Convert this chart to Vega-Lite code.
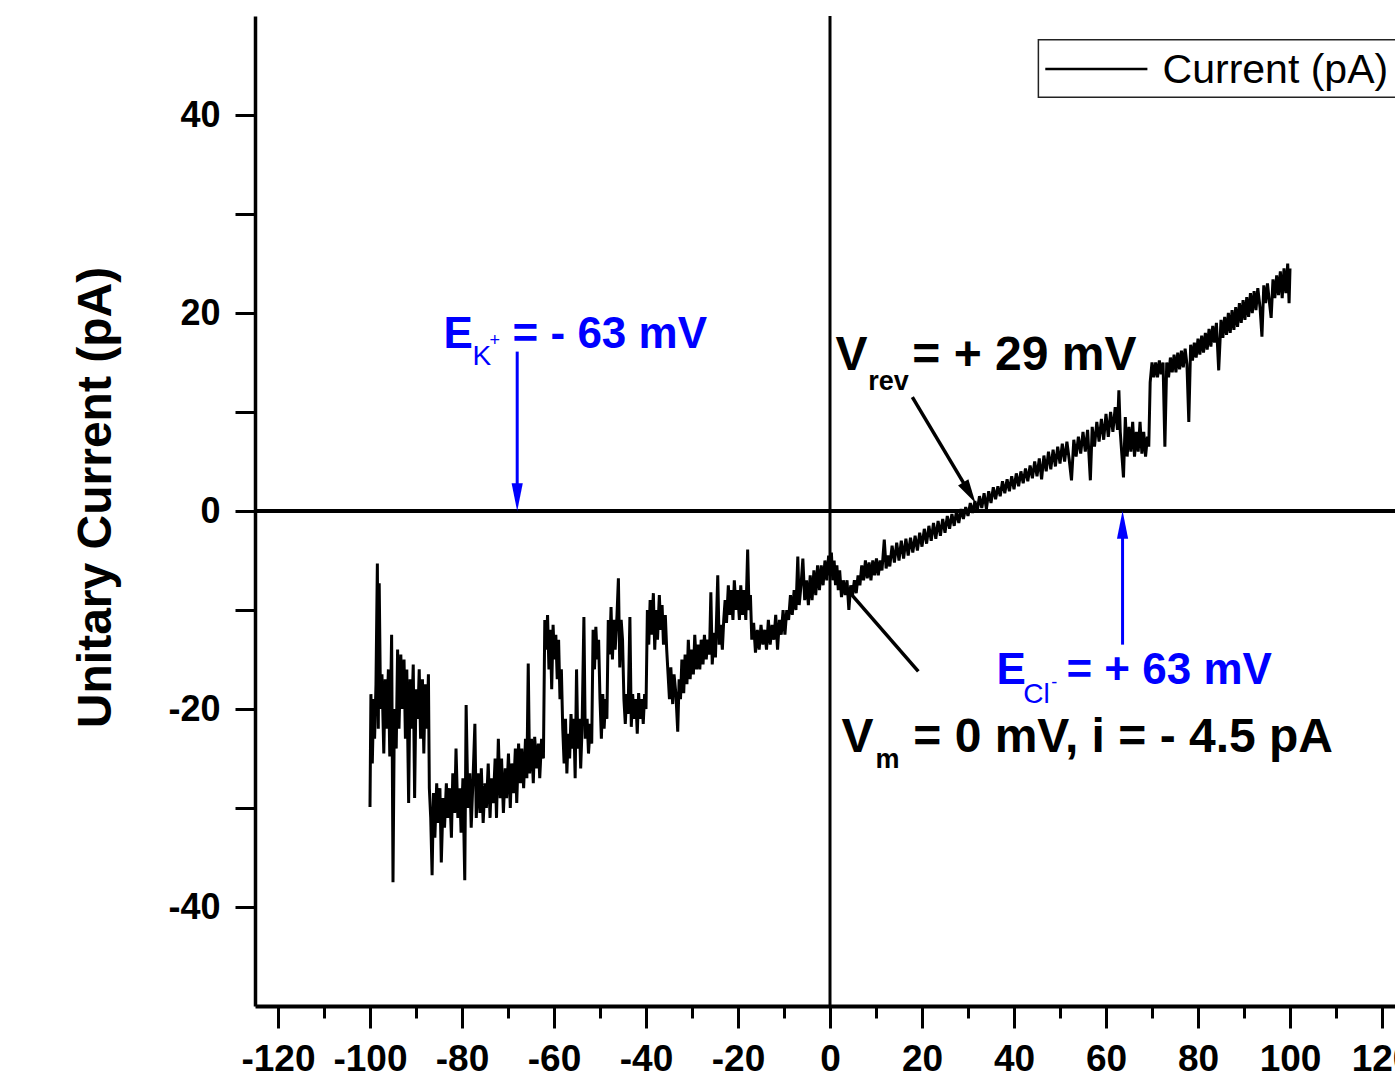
{
 "$schema": "https://vega.github.io/schema/vega-lite/v6.json",
 "width": 1150,
 "height": 990,
 "autosize": {"type": "none"},
 "padding": {"left": 255, "top": 16, "right": 0, "bottom": 75},
 "background": "white",
 "config": {"view": {"stroke": null}, "font": "Liberation Sans"},
 "datasets": {
  "trace": [
{"x":-100,"y":-29.9},{"x":-99.8,"y":-18.5},{"x":-99.5,"y":-25.5},{"x":-99.2,"y":-19},{"x":-99,"y":-23},{"x":-98.7,"y":-17.5},{"x":-98.4,"y":-5.3},{"x":-98.2,"y":-22},{"x":-98,"y":-7.3},{"x":-97.7,"y":-20},{"x":-97.4,"y":-16.5},{"x":-97,"y":-24.5},{"x":-96.7,"y":-17},{"x":-96.4,"y":-22},{"x":-96,"y":-16},{"x":-95.7,"y":-24.8},{"x":-95.3,"y":-12.5},{"x":-95,"y":-37.5},{"x":-94.7,"y":-20},{"x":-94.3,"y":-24},{"x":-94,"y":-14},{"x":-93.7,"y":-22},{"x":-93.3,"y":-14.5},{"x":-93,"y":-20},{"x":-92.6,"y":-15},{"x":-92.3,"y":-23},{"x":-92,"y":-16},{"x":-91.6,"y":-29.5},{"x":-91.3,"y":-17},{"x":-91,"y":-22},{"x":-90.6,"y":-15.5},{"x":-90.3,"y":-29},{"x":-90,"y":-18},{"x":-89.6,"y":-21},{"x":-89.3,"y":-16},{"x":-89,"y":-23},{"x":-88.6,"y":-17},{"x":-88.3,"y":-24.5},{"x":-88,"y":-17.5},{"x":-87.6,"y":-22},{"x":-87.3,"y":-16.5},{"x":-87.1,"y":-28},
{"x":-86.8,"y":-31},{"x":-86.5,"y":-36.8},{"x":-86.2,"y":-28.5},{"x":-85.9,"y":-33},{"x":-85.5,"y":-27.5},{"x":-85.2,"y":-31.5},{"x":-84.8,"y":-28},{"x":-84.5,"y":-35.5},{"x":-84.1,"y":-29},{"x":-83.8,"y":-32},{"x":-83.4,"y":-27.5},{"x":-83.1,"y":-31},{"x":-82.7,"y":-28},{"x":-82.3,"y":-33},{"x":-82,"y":-26.5},{"x":-81.6,"y":-30.5},{"x":-81.3,"y":-24},{"x":-80.9,"y":-31},{"x":-80.5,"y":-28},{"x":-80.2,"y":-32.5},{"x":-79.8,"y":-27},{"x":-79.4,"y":-37.3},{"x":-79.1,"y":-19.6},{"x":-78.7,"y":-30},{"x":-78.3,"y":-26.5},{"x":-78,"y":-32},{"x":-77.6,"y":-27},{"x":-77.2,"y":-21.5},{"x":-76.9,"y":-31},{"x":-76.5,"y":-26.5},{"x":-76.1,"y":-30.5},{"x":-75.8,"y":-26},{"x":-75.4,"y":-31.5},{"x":-75,"y":-27.5},{"x":-74.7,"y":-30},{"x":-74.3,"y":-25.5},{"x":-73.9,"y":-31},{"x":-73.6,"y":-27},{"x":-73.2,"y":-29.5},{"x":-72.8,"y":-25},{"x":-72.5,"y":-31},{"x":-72.1,"y":-23},{"x":-71.7,"y":-29},{"x":-71.4,"y":-25},{"x":-71,"y":-30.5},{"x":-70.6,"y":-26},{"x":-70.3,"y":-29},{"x":-69.9,"y":-24.5},{"x":-69.5,"y":-30},{"x":-69.2,"y":-25.5},{"x":-68.8,"y":-28.5},{"x":-68.4,"y":-24},{"x":-68.1,"y":-29.5},{"x":-67.7,"y":-23.5},{"x":-67.3,"y":-27.5},{"x":-67,"y":-24},{"x":-66.6,"y":-28},{"x":-66.2,"y":-23},{"x":-65.9,"y":-27},{"x":-65.6,"y":-15.4},{"x":-65.3,"y":-26.5},{"x":-64.9,"y":-23},{"x":-64.5,"y":-27.5},{"x":-64.2,"y":-22.8},{"x":-63.8,"y":-26},{"x":-63.4,"y":-23.5},{"x":-63.1,"y":-27},{"x":-62.7,"y":-23},{"x":-62.3,"y":-25},
{"x":-62,"y":-11},{"x":-61.7,"y":-14},{"x":-61.4,"y":-10.5},{"x":-61.1,"y":-16},{"x":-60.8,"y":-12},{"x":-60.5,"y":-18},{"x":-60.2,"y":-11.5},{"x":-59.9,"y":-15},{"x":-59.6,"y":-12.5},{"x":-59.3,"y":-17},{"x":-59,"y":-13},{"x":-58.7,"y":-19},{"x":-58.4,"y":-16},
{"x":-58.1,"y":-22},{"x":-57.8,"y":-25.5},{"x":-57.5,"y":-21},{"x":-57.2,"y":-26.5},{"x":-56.9,"y":-22.5},{"x":-56.6,"y":-25},{"x":-56.3,"y":-20.5},{"x":-56,"y":-24},{"x":-55.7,"y":-21},{"x":-55.4,"y":-27},{"x":-55.1,"y":-16},{"x":-54.8,"y":-24},{"x":-54.5,"y":-21},{"x":-54.2,"y":-26},
{"x":-53.9,"y":-22},{"x":-53.5,"y":-10.7},{"x":-53.2,"y":-23},{"x":-52.8,"y":-21},{"x":-52.5,"y":-24.5},{"x":-52.1,"y":-21.5},{"x":-51.8,"y":-23.5},
{"x":-51.5,"y":-12},{"x":-51.2,"y":-16},{"x":-50.9,"y":-11.7},{"x":-50.6,"y":-15},{"x":-50.3,"y":-13},
{"x":-50,"y":-19},{"x":-49.7,"y":-23},{"x":-49.4,"y":-18.5},{"x":-49.1,"y":-22},{"x":-48.8,"y":-19},{"x":-48.5,"y":-21},
{"x":-48.2,"y":-11},{"x":-47.9,"y":-14.5},{"x":-47.6,"y":-9.7},{"x":-47.3,"y":-15},{"x":-47,"y":-11},{"x":-46.7,"y":-14},{"x":-46.3,"y":-10.5},{"x":-46,"y":-6.8},{"x":-45.7,"y":-15.8},{"x":-45.4,"y":-11},{"x":-45.1,"y":-13},
{"x":-44.8,"y":-19},{"x":-44.5,"y":-21.5},{"x":-44.2,"y":-18.5},{"x":-43.9,"y":-20.5},{"x":-43.5,"y":-10.7},{"x":-43.2,"y":-21.8},{"x":-42.9,"y":-18.5},{"x":-42.6,"y":-21},{"x":-42.2,"y":-19},{"x":-41.9,"y":-22.5},{"x":-41.6,"y":-18.4},{"x":-41.3,"y":-21},{"x":-40.9,"y":-19},{"x":-40.6,"y":-21.5},{"x":-40.3,"y":-18.5},{"x":-40,"y":-20},
{"x":-39.7,"y":-10},{"x":-39.4,"y":-13.5},{"x":-39.1,"y":-9},{"x":-38.8,"y":-12.5},{"x":-38.4,"y":-8.3},{"x":-38.1,"y":-14},{"x":-37.8,"y":-10},{"x":-37.5,"y":-13},{"x":-37.1,"y":-8.5},{"x":-36.8,"y":-12},{"x":-36.5,"y":-9.5},{"x":-36.2,"y":-13.5},{"x":-35.8,"y":-10.5},{"x":-35.5,"y":-14},
{"x":-35.2,"y":-16.5},{"x":-34.9,"y":-19},{"x":-34.6,"y":-15.8},{"x":-34.2,"y":-19.5},{"x":-33.9,"y":-16.5},{"x":-33.5,"y":-18.5},{"x":-33.1,"y":-22.3},{"x":-32.8,"y":-17},{"x":-32.5,"y":-19},
{"x":-32.2,"y":-15},{"x":-31.8,"y":-18.4},{"x":-31.5,"y":-14.5},{"x":-31.1,"y":-17.5},{"x":-30.8,"y":-13},{"x":-30.4,"y":-17},{"x":-30.1,"y":-14},{"x":-29.7,"y":-16.5},{"x":-29.4,"y":-12.5},{"x":-29,"y":-16},{"x":-28.7,"y":-13.5},{"x":-28.3,"y":-16},{"x":-28,"y":-13},{"x":-27.6,"y":-15.5},{"x":-27.3,"y":-12.5},{"x":-26.9,"y":-15},{"x":-26.6,"y":-13},
{"x":-26.2,"y":-14.5},{"x":-25.9,"y":-8.2},{"x":-25.6,"y":-15.5},{"x":-25.2,"y":-12.3},{"x":-24.9,"y":-14.8},{"x":-24.4,"y":-6.5},{"x":-24.1,"y":-13.5},{"x":-23.8,"y":-11.5},{"x":-23.4,"y":-14},{"x":-23.1,"y":-11},
{"x":-22.8,"y":-9},{"x":-22.5,"y":-11.3},{"x":-22.1,"y":-7.5},{"x":-21.8,"y":-10.5},{"x":-21.5,"y":-8},{"x":-21.1,"y":-11},{"x":-20.8,"y":-7},{"x":-20.4,"y":-10},{"x":-20.1,"y":-8},{"x":-19.7,"y":-11},{"x":-19.4,"y":-7.5},{"x":-19,"y":-10.5},{"x":-18.7,"y":-8},{"x":-18.3,"y":-11},{"x":-17.9,"y":-3.9},{"x":-17.6,"y":-10},{"x":-17.3,"y":-8.5},
{"x":-17,"y":-13},{"x":-16.6,"y":-11.3},{"x":-16.2,"y":-14.3},{"x":-15.8,"y":-12},{"x":-15.4,"y":-14},{"x":-15,"y":-11.5},{"x":-14.6,"y":-13.5},{"x":-14.2,"y":-12},{"x":-13.8,"y":-14},{"x":-13.4,"y":-11},{"x":-13,"y":-13.5},{"x":-12.6,"y":-11.5},{"x":-12.2,"y":-13},{"x":-11.8,"y":-10.5},{"x":-11.4,"y":-14},{"x":-11,"y":-11},{"x":-10.6,"y":-12.5},{"x":-10.2,"y":-10},{"x":-9.8,"y":-12.5},{"x":-9.4,"y":-10},
{"x":-9,"y":-11},{"x":-8.6,"y":-8.5},{"x":-8.2,"y":-10.5},{"x":-7.8,"y":-8},{"x":-7.4,"y":-10},{"x":-7,"y":-4.6},{"x":-6.7,"y":-9.5},{"x":-6.3,"y":-7.5},{"x":-5.9,"y":-4.8},{"x":-5.5,"y":-9},{"x":-5.1,"y":-7},{"x":-4.7,"y":-9.5},{"x":-4.3,"y":-6.5},{"x":-3.9,"y":-9},{"x":-3.5,"y":-6},{"x":-3.1,"y":-8.5},{"x":-2.7,"y":-5.5},{"x":-2.3,"y":-8},{"x":-1.9,"y":-5.5},{"x":-1.5,"y":-7.5},{"x":-1.1,"y":-5},{"x":-0.7,"y":-7},{"x":-0.3,"y":-4.5},
{"x":0,"y":-6.5},{"x":0.3,"y":-4.2},{"x":0.6,"y":-7},{"x":0.9,"y":-5},{"x":1.2,"y":-7.5},{"x":1.5,"y":-5.5},{"x":1.8,"y":-8},{"x":2.1,"y":-6},
{"x":2.5,"y":-8.7},{"x":2.9,"y":-7},{"x":3.3,"y":-8.5},{"x":3.7,"y":-7},{"x":4.1,"y":-10},{"x":4.5,"y":-7.5},{"x":4.9,"y":-8.5},{"x":5.3,"y":-7},{"x":5.7,"y":-8.3},{"x":6.1,"y":-6.5},
{"x":6.5,"y":-7.5},{"x":6.9,"y":-5.5},{"x":7.3,"y":-7},{"x":7.7,"y":-5},{"x":8.1,"y":-6.8},{"x":8.5,"y":-5.2},{"x":8.9,"y":-7},{"x":9.3,"y":-5},{"x":9.7,"y":-6.5},{"x":10.1,"y":-4.8},{"x":10.5,"y":-6.5},{"x":10.9,"y":-5},{"x":11.3,"y":-6},{"x":11.8,"y":-2.9},{"x":12.2,"y":-5.8},{"x":12.6,"y":-4.5},
{"x":13,"y":-5.6},{"x":13.5,"y":-3.5},{"x":14,"y":-5.2},{"x":14.5,"y":-3.2},{"x":15,"y":-5},{"x":15.5,"y":-3},{"x":16,"y":-4.8},{"x":16.5,"y":-2.8},{"x":17,"y":-4.5},{"x":17.5,"y":-2.7},{"x":18,"y":-4.2},{"x":18.5,"y":-2.5},{"x":19,"y":-4},{"x":19.5,"y":-2.2},
{"x":20,"y":-3.6},{"x":20.5,"y":-1.8},{"x":21,"y":-3.3},{"x":21.5,"y":-1.5},{"x":22,"y":-3},{"x":22.5,"y":-1.2},{"x":23,"y":-2.8},{"x":23.5,"y":-1},{"x":24,"y":-2.5},{"x":24.5,"y":-0.8},{"x":25,"y":-2.2},{"x":25.5,"y":-0.5},{"x":26,"y":-1.8},{"x":26.5,"y":-0.3},{"x":27,"y":-1.5},{"x":27.5,"y":0},
{"x":28,"y":-1.2},{"x":28.5,"y":0.2},{"x":29,"y":-0.8},{"x":29.5,"y":0.4},{"x":30,"y":-0.5},{"x":30.5,"y":0.8},{"x":31,"y":-0.2},{"x":31.5,"y":1},
{"x":32,"y":0},{"x":32.5,"y":1.5},{"x":33,"y":0.3},{"x":33.5,"y":1.8},{"x":34,"y":0.2},{"x":34.5,"y":2},{"x":35,"y":0.8},{"x":35.5,"y":2.4},{"x":36,"y":1.2},{"x":36.5,"y":2.5},{"x":37,"y":1.5},{"x":37.5,"y":3},{"x":38,"y":1.8},{"x":38.5,"y":3.2},{"x":39,"y":2},{"x":39.5,"y":3.5},{"x":40,"y":2.2},{"x":40.5,"y":3.8},{"x":41,"y":2.5},{"x":41.5,"y":4},
{"x":42,"y":2.8},{"x":42.5,"y":4.3},{"x":43,"y":3},{"x":43.5,"y":4.6},{"x":44,"y":3.3},{"x":44.5,"y":5},{"x":45,"y":3.5},{"x":45.5,"y":5.3},{"x":46,"y":3.2},{"x":46.5,"y":5.6},{"x":47,"y":4},{"x":47.5,"y":6},{"x":48,"y":4.2},{"x":48.5,"y":6.2},{"x":49,"y":4.5},{"x":49.5,"y":6.5},{"x":50,"y":4.8},{"x":50.5,"y":6.8},{"x":51,"y":5},{"x":51.5,"y":7},{"x":52,"y":5.2},{"x":52.5,"y":3.1},{"x":53,"y":7.2},{"x":53.5,"y":5.5},{"x":54,"y":7.5},{"x":54.5,"y":5.8},{"x":55,"y":8},{"x":55.5,"y":6},{"x":56,"y":8.2},{"x":56.6,"y":3.1},{"x":57,"y":8.5},{"x":57.5,"y":6.5},{"x":58,"y":9},{"x":58.5,"y":7},{"x":59,"y":9.3},{"x":59.5,"y":7.2},{"x":60,"y":9.8},{"x":60.5,"y":7.5},{"x":61,"y":10},{"x":61.5,"y":8},{"x":62,"y":10.5},{"x":62.5,"y":8.2},{"x":62.8,"y":12.2},{"x":63.1,"y":8},
{"x":63.4,"y":6},{"x":63.8,"y":3.4},{"x":64.2,"y":9.5},{"x":64.6,"y":5.5},{"x":65,"y":8.5},{"x":65.4,"y":6},{"x":65.8,"y":9},{"x":66.2,"y":5.5},{"x":66.6,"y":8},{"x":67,"y":6},{"x":67.4,"y":9},{"x":67.8,"y":5.8},{"x":68.2,"y":8},{"x":68.6,"y":5.5},{"x":69,"y":7.5},{"x":69.3,"y":6.5},
{"x":69.6,"y":13},{"x":70,"y":15},{"x":70.4,"y":13.5},{"x":70.8,"y":15},{"x":71.2,"y":13.5},
{"x":71.6,"y":15.2},{"x":72,"y":13.8},{"x":72.4,"y":15},{"x":72.8,"y":6.5},{"x":73.2,"y":15},{"x":73.6,"y":13.5},{"x":74,"y":15.5},{"x":74.4,"y":14},{"x":74.8,"y":15.8},{"x":75.2,"y":14},{"x":75.6,"y":16},{"x":76,"y":14.3},{"x":76.4,"y":16.2},{"x":76.8,"y":14.5},{"x":77.2,"y":16.4},{"x":77.6,"y":14.8},{"x":78,"y":9},{"x":78.4,"y":16.8},
{"x":78.8,"y":15.2},{"x":79.2,"y":17},{"x":79.6,"y":15.5},{"x":80,"y":17.4},{"x":80.4,"y":15.8},{"x":80.8,"y":17.7},{"x":81.2,"y":16},{"x":81.6,"y":18},{"x":82,"y":16.3},{"x":82.4,"y":18.4},{"x":82.8,"y":16.6},{"x":83.2,"y":18.7},{"x":83.6,"y":17},{"x":84,"y":19},{"x":84.5,"y":14.2},{"x":85,"y":19.3},{"x":85.4,"y":17.5},{"x":85.8,"y":19.6},{"x":86.2,"y":17.8},{"x":86.6,"y":20},{"x":87,"y":18},{"x":87.4,"y":20.3},{"x":87.8,"y":18.3},
{"x":88.2,"y":20.6},{"x":88.6,"y":18.6},{"x":89,"y":21},{"x":89.4,"y":19},{"x":89.8,"y":21.3},{"x":90.2,"y":19.3},{"x":90.6,"y":21.6},{"x":91,"y":19.6},{"x":91.4,"y":22},{"x":91.8,"y":20},{"x":92.2,"y":22.2},{"x":92.6,"y":20.3},{"x":93,"y":22.5},{"x":93.5,"y":20.5},{"x":93.9,"y":17.6},{"x":94.3,"y":22.8},{"x":94.7,"y":21},{"x":95.1,"y":23},{"x":95.5,"y":21.2},{"x":95.9,"y":19.5},{"x":96.3,"y":23.4},{"x":96.7,"y":21.5},{"x":97.1,"y":23.8},{"x":97.5,"y":21.8},{"x":97.9,"y":24.2},{"x":98.3,"y":21.5},{"x":98.7,"y":24.5},{"x":99.1,"y":22},{"x":99.5,"y":25},{"x":99.8,"y":21},{"x":100,"y":24.5}
  ]
 },
 "encoding": {
  "x": {
   "field": "x", "type": "quantitative",
   "scale": {"domain": [-125, 125], "nice": false, "zero": false},
   "axis": {
    "title": null, "grid": false,
    "values": [-120,-110,-100,-90,-80,-70,-60,-50,-40,-30,-20,-10,0,10,20,30,40,50,60,70,80,90,100,110,120],
    "labelExpr": "datum.value % 20 === 0 ? '' + datum.value : ''",
    "labelFont": "Liberation Sans", "labelFontSize": 37, "labelFontWeight": "bold", "labelColor": "black",
    "labelPadding": 13, "labelOverlap": false, "labelFlush": false,
    "tickColor": "black", "tickWidth": 3,
    "tickSize": {"condition": {"test": "datum.value % 20 === 0", "value": 22}, "value": 12},
    "domainColor": "black", "domainWidth": 4
   }
  },
  "y": {
   "field": "y", "type": "quantitative",
   "scale": {"domain": [-50, 50], "nice": false, "zero": false},
   "axis": {
    "title": "Unitary Current (pA)", "grid": false,
    "values": [-40,-30,-20,-10,0,10,20,30,40],
    "labelExpr": "datum.value % 20 === 0 ? '' + datum.value : ''",
    "labelFont": "Liberation Sans", "labelFontSize": 36, "labelFontWeight": "bold", "labelColor": "black",
    "labelPadding": 15, "labelOverlap": false, "labelFlush": false,
    "tickColor": "black", "tickWidth": 3, "tickSize": 20,
    "domainColor": "black", "domainWidth": 3.5,
    "titleFont": "Liberation Sans", "titleFontSize": 48, "titleFontWeight": "bold", "titleColor": "black", "titlePadding": 47,
    "titleY": 481
   }
  }
 },
 "layer": [
  {"data": {"values": [{"x": 45.3, "x2": 130, "y": 47.6, "y2": 41.8}]},
   "mark": {"type": "rect", "fill": "white", "stroke": "#222222", "strokeWidth": 1.5},
   "encoding": {"x2": {"field": "x2"}, "y2": {"field": "y2"}}},
  {"data": {"values": [{"x": 46.8, "x2": 69, "y": 44.65}]},
   "mark": {"type": "rule", "color": "black", "strokeWidth": 2.5},
   "encoding": {"x2": {"field": "x2"}}},
  {"data": {"values": [{"x": 72.3, "y": 43.2, "t": "Current (pA)"}]},
   "mark": {"type": "text", "font": "Liberation Sans", "fontSize": 41, "color": "black", "align": "left", "baseline": "alphabetic"},
   "encoding": {"text": {"field": "t"}}},
  {"data": {"values": [{"x": -125, "x2": 125, "y": 0}]},
   "mark": {"type": "rule", "color": "black", "strokeWidth": 4},
   "encoding": {"x2": {"field": "x2"}}},
  {"data": {"values": [{"x": 0, "y": -50, "y2": 50}]},
   "mark": {"type": "rule", "color": "black", "strokeWidth": 3},
   "encoding": {"y2": {"field": "y2"}}},
  {"data": {"name": "trace"},
   "mark": {"type": "line", "color": "black", "strokeWidth": 3, "strokeJoin": "miter"},
   "encoding": {}},
  {"data": {"values": [{"x": -68, "y": 16.1, "x2": -68, "y2": 2.5}, {"x": 63.6, "y": -13.5, "x2": 63.6, "y2": -2.5}]},
   "mark": {"type": "rule", "color": "#0000ff", "strokeWidth": 3},
   "encoding": {"x2": {"field": "x2"}, "y2": {"field": "y2"}}},
  {"data": {"values": [{"x": 17.9, "y": 11.5, "x2": 30.3, "y2": 1.85}, {"x": 2, "y": -7, "x2": 19.2, "y2": -16.2}]},
   "mark": {"type": "rule", "color": "black", "strokeWidth": 3.5},
   "encoding": {"x2": {"field": "x2"}, "y2": {"field": "y2"}}},
  {"data": {"values": [{"x": -68, "y": 1.4}]},
   "mark": {"type": "point", "shape": "M-0.4,-1L0.4,-1L0,1Z", "size": 784, "filled": true, "opacity": 1, "color": "#0000ff"},
   "encoding": {}},
  {"data": {"values": [{"x": 63.6, "y": -1.4}]},
   "mark": {"type": "point", "shape": "M-0.4,1L0.4,1L0,-1Z", "size": 784, "filled": true, "opacity": 1, "color": "#0000ff"},
   "encoding": {}},
  {"data": {"values": [{"x": 30.3, "y": 1.85}]},
   "mark": {"type": "point", "shape": "M-0.5,-1L0.5,-1L0,1Z", "size": 576, "angle": -30.8, "filled": true, "opacity": 1, "color": "black"},
   "encoding": {}},
  {"data": {"values": [{"x": -84, "y": 16.5, "t": "E"}, {"x": -69, "y": 16.5, "t": "= - 63 mV"}, {"x": 36.2, "y": -17.5, "t": "E"}, {"x": 51.4, "y": -17.5, "t": "= + 63 mV"}]},
   "mark": {"type": "text", "font": "Liberation Sans", "fontSize": 44, "fontWeight": "bold", "color": "#0000ff", "align": "left", "baseline": "alphabetic"},
   "encoding": {"text": {"field": "t"}}},
  {"data": {"values": [{"x": -77.7, "y": 14.7, "t": "K"}, {"x": 42, "y": -19.4, "t": "Cl"}]},
   "mark": {"type": "text", "font": "Liberation Sans", "fontSize": 28, "color": "#0000ff", "align": "left", "baseline": "alphabetic"},
   "encoding": {"text": {"field": "t"}}},
  {"data": {"values": [{"x": -74.0, "y": 16.7, "t": "+"}, {"x": 48.1, "y": -17.9, "t": "-"}]},
   "mark": {"type": "text", "font": "Liberation Sans", "fontSize": 18, "color": "#0000ff", "align": "left", "baseline": "alphabetic"},
   "encoding": {"text": {"field": "t"}}},
  {"data": {"values": [{"x": 1.2, "y": 14.2, "t": "V"}, {"x": 17.9, "y": 14.2, "t": "= + 29 mV"}, {"x": 2.5, "y": -24.3, "t": "V"}, {"x": 18.1, "y": -24.3, "t": "= 0 mV, i = - 4.5 pA"}]},
   "mark": {"type": "text", "font": "Liberation Sans", "fontSize": 48, "fontWeight": "bold", "color": "black", "align": "left", "baseline": "alphabetic"},
   "encoding": {"text": {"field": "t"}}},
  {"data": {"values": [{"x": 8.3, "y": 12.2, "t": "rev"}, {"x": 9.9, "y": -26, "t": "m"}]},
   "mark": {"type": "text", "font": "Liberation Sans", "fontSize": 27, "fontWeight": "bold", "color": "black", "align": "left", "baseline": "alphabetic"},
   "encoding": {"text": {"field": "t"}}}
 ]
}
